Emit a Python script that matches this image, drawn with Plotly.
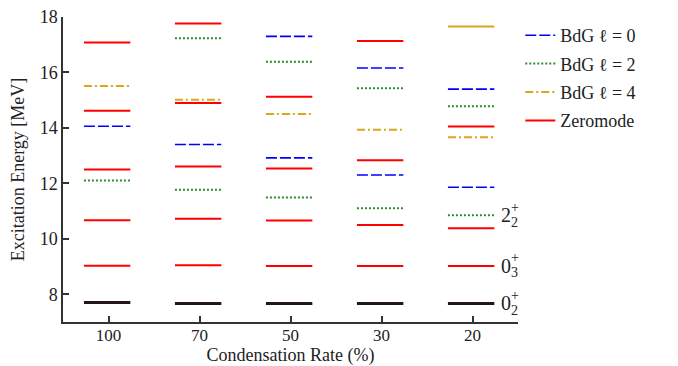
import plotly.graph_objects as go

# ---------------- data ----------------
categories = ["100", "70", "50", "30", "20"]

# lowest state (0_2^+) per column
ground_levels = [7.70, 7.67, 7.67, 7.67, 7.67]

# Zeromode levels per column
zeromode_levels = [
    [9.03, 10.67, 12.50, 14.62, 17.08],
    [9.05, 10.72, 12.61, 14.90, 17.77],
    [9.02, 10.66, 12.54, 15.12],
    [9.02, 10.50, 12.83, 17.13],
    [9.02, 10.38, 14.05],
]

# BdG levels per column
bdg_l0_levels = [[14.06], [13.40], [12.92, 17.30], [12.30, 16.16], [11.86, 15.40]]
bdg_l2_levels = [[12.10], [11.77, 17.23], [11.49, 16.39], [11.10, 15.43], [10.85, 14.78]]
bdg_l4_levels = [[15.51], [15.02], [14.50], [13.93], [13.66]]
bdg_l4_solid_levels = [[], [], [], [], [17.66]]

# state labels on the last column
label_main = ["2", "0", "0"]
label_sub = ["2", "3", "2"]
label_values = [10.85, 9.02, 7.67]

y_ticks = [8, 10, 12, 14, 16, 18]

# ---------------- helpers ----------------
LEFT, RIGHT = 0.27, 0.24


def segs(levels_per_col):
    xs, ys = [], []
    for i, lv in enumerate(levels_per_col):
        for v in lv:
            xs += [i - LEFT, i + RIGHT, None]
            ys += [v, v, None]
    return xs, ys


FONT = "Liberation Serif"
TXT = "#222222"
AX = "#333333"
FS = 18

fig = go.Figure()

series = [
    ("BdG ℓ = 0", bdg_l0_levels, "#0000FF", "11px,3px", 1.6, True),
    ("BdG ℓ = 2", bdg_l2_levels, "#2E8B2E", "2px,2px", 2, True),
    ("BdG ℓ = 4", bdg_l4_levels, "#DAA520", "8px,3px,2px,3px", 2, True),
    ("Zeromode", zeromode_levels, "#FF0000", "solid", 2, True),
    ("BdG ℓ = 4 (solid)", bdg_l4_solid_levels, "#DAA520", "solid", 2, False),
    ("0₂⁺", [[v] for v in ground_levels], "#231815", "solid", 3, False),
]

for k, (name, lv, col, dash, w, show) in enumerate(series):
    xs, ys = segs(lv)
    fig.add_trace(go.Scatter(
        x=xs, y=ys, mode="lines", name=name,
        line=dict(color=col, dash=dash, width=w),
        showlegend=show, legendgroup=f"g{k}", hoverinfo="skip",
    ))

# state labels
xl = len(categories) - 1 + 0.29
for m, s, v in zip(label_main, label_sub, label_values):
    fig.add_annotation(x=xl, y=v, text=m, showarrow=False, xanchor="left",
                       yanchor="middle", font=dict(family=FONT, size=20, color=TXT))
    fig.add_annotation(x=xl, y=v, text="+", showarrow=False, xanchor="left",
                       yanchor="middle", xshift=10, yshift=8,
                       font=dict(family=FONT, size=14, color=TXT))
    fig.add_annotation(x=xl, y=v, text=s, showarrow=False, xanchor="left",
                       yanchor="middle", xshift=10, yshift=-7,
                       font=dict(family=FONT, size=14, color=TXT))

fig.update_layout(
    width=678, height=366,
    margin=dict(l=63, r=160, t=17, b=44),
    paper_bgcolor="white", plot_bgcolor="white",
    font=dict(family=FONT, size=FS, color=TXT),
    showlegend=True,
    legend=dict(x=1.005, xanchor="left", y=1.0, yanchor="top",
                bgcolor="rgba(0,0,0,0)", font=dict(family=FONT, size=FS, color=TXT),
                tracegroupgap=2, itemwidth=30),
    xaxis=dict(
        range=[-0.5, len(categories) - 0.5], automargin=False,
        tickmode="array", tickvals=list(range(len(categories))), ticktext=categories,
        ticks="inside", ticklen=6, tickwidth=1.5, tickcolor=AX,
        tickfont=dict(family=FONT, size=17, color=TXT), ticklabelstandoff=-3,
        showline=True, linecolor=AX, linewidth=1.5,
        showgrid=False, zeroline=False,
        title=dict(text="Condensation Rate (%)", standoff=7,
                   font=dict(family=FONT, size=FS, color=TXT)),
    ),
    yaxis=dict(
        range=[7, 18], tickmode="array", tickvals=y_ticks, automargin=False,
        ticks="inside", ticklen=6, tickwidth=1.5, tickcolor=AX,
        tickfont=dict(family=FONT, size=FS, color=TXT),
        showline=True, linecolor=AX, linewidth=1.5,
        showgrid=False, zeroline=False,
        title=dict(text="Excitation Energy [MeV]", standoff=10,
                   font=dict(family=FONT, size=FS, color=TXT)),
    ),
)

fig.write_html("out.html", config={"displayModeBar": False},
               post_script="document.body.style.margin='0';")
